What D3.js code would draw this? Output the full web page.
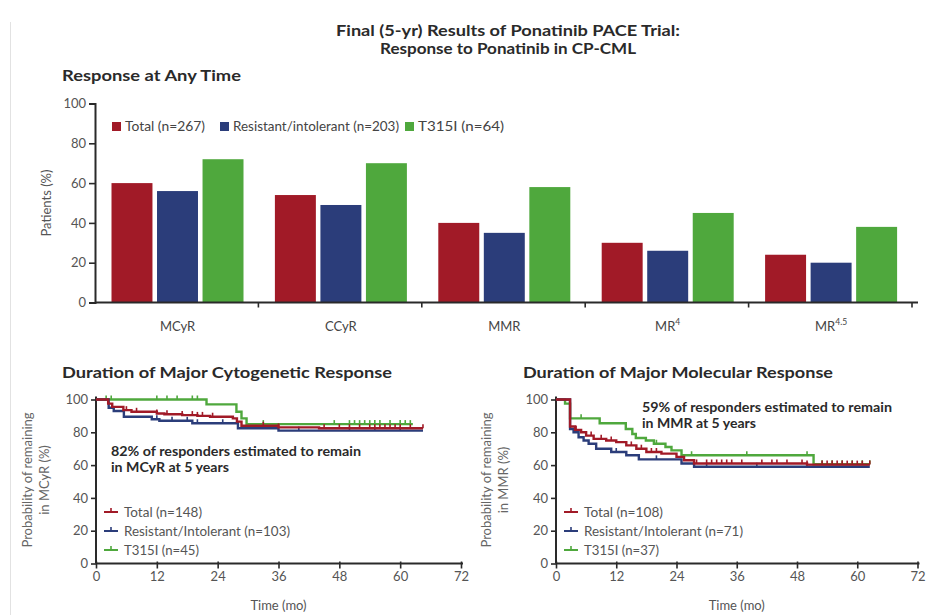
<!DOCTYPE html>
<html>
<head>
<meta charset="utf-8">
<script src="https://cdn.jsdelivr.net/npm/d3@7"></script>
<style>
  html, body { margin: 0; padding: 0; background: #fff; }
  svg { display: block; }
  text { font-family: Lato, "Open Sans", sans-serif; }
</style>
</head>
<body>
<svg id="chart" width="928" height="615"></svg>
<script>
// ---- Response at any time (bar chart) ----
const categories = ["MCyR", "CCyR", "MMR", "MR4", "MR4.5"];
const groups = ["Total (n=267)", "Resistant/intolerant (n=203)", "T315I (n=64)"];
const totalPct = [60, 54, 40, 30, 24];
const resistantPct = [56, 49, 35, 26, 20];
const t315iPct = [72, 70, 58, 45, 38];
const barTicks = [0, 20, 40, 60, 80, 100];

// ---- Duration of MCyR (Kaplan-Meier steps: [month, %]) ----
const mcyrTotal = [[0,100],[2.4,97.5],[3.2,95.5],[5.4,93.5],[7,92.5],[12,91.5],[13.5,91],[17,90.5],[20,90],[22.5,89.5],[27,88.5],[27.8,86.5],[28.7,84],[36,83],[44,82.5],[64.5,82.5]];
const mcyrResistant = [[0,100],[2.5,95],[3.5,93],[5.5,89.5],[11,88],[12.5,87],[19,85.5],[28,82.5],[36,81],[64.5,81]];
const mcyrT315i = [[0,100],[21.8,97],[27.7,92.5],[28.7,88.5],[29.7,85],[62.5,85]];
const mcyrTotalCensor = [6,8,12,14,17,19,20,21,23,33,36,45,48,50,52,54,55,56,57,58,59,60,62,64.5];
const mcyrResistantCensor = [12,15,18,20,25,40,50,55,60];
const mcyrT315iCensor = [2,3,12,14,16,19,20,33,47,50,51,52,53,54,55,56,58,60,61,62];
const mcyrLegend = ["Total (n=148)", "Resistant/Intolerant (n=103)", "T315I (n=45)"];

// ---- Duration of MMR ----
const mmrTotal = [[0,100],[2.8,83.5],[3.8,81.5],[5,80],[6,78],[7.5,76],[10,75],[12,74],[14,72],[16,70],[18,68],[21,67],[24,65],[25.5,63],[27.5,61],[50,60.3],[62.5,60.3]];
const mmrResistant = [[0,100],[2.8,82],[3.5,80],[4.5,77],[5.5,75],[6.5,73],[8,70],[11,68],[14,66],[16.5,63.5],[25,61],[27.5,59],[62.5,59]];
const mmrT315i = [[0,100],[1.8,97.5],[2.8,88.5],[8.7,85.5],[13.9,82],[15.2,79],[15.9,76.5],[17.9,75],[19.5,73],[21.8,71],[23,69],[25,66],[51.3,60.5],[62.5,60.5]];
const mmrTotalCensor = [4,7,9,11,15,17,19,20,28,30,31,32,33,34,35,37,41,43,44,46,49,50,53,54,55,56,57,58,59,60,61,62.5];
const mmrResistantCensor = [12,20,30,40,50];
const mmrT315iCensor = [5,20,27,38,50,53,55,57,59,61,62.5];
const mmrLegend = ["Total (n=108)", "Resistant/Intolerant (n=71)", "T315I (n=37)"];

const kmTicksX = [0, 12, 24, 36, 48, 60, 72];
const kmTicksY = [0, 20, 40, 60, 80, 100];

const colors = ["#a11a27", "#2b3d7a", "#4fa83d"];
const ink = "#2a2a2a";
const tickInk = "#555";

const svg = d3.select("#chart");

// page edge line
svg.append("line").attr("x1", 10.5).attr("x2", 10.5).attr("y1", 22).attr("y2", 615)
  .attr("stroke", "#e2e2e2").attr("stroke-width", 1);

function fitText(sel, w) {
  sel.attr("textLength", w).attr("lengthAdjust", "spacingAndGlyphs");
  return sel;
}

// Titles
fitText(svg.append("text").attr("x", 508).attr("y", 36).attr("text-anchor", "middle")
  .attr("font-size", 14.5).attr("font-weight", 700).attr("fill", ink)
  .text("Final (5-yr) Results of Ponatinib PACE Trial:"), 344);
fitText(svg.append("text").attr("x", 508).attr("y", 54).attr("text-anchor", "middle")
  .attr("font-size", 14.5).attr("font-weight", 700).attr("fill", ink)
  .text("Response to Ponatinib in CP-CML"), 256);
fitText(svg.append("text").attr("x", 62).attr("y", 81)
  .attr("font-size", 15).attr("font-weight", 700).attr("fill", ink)
  .text("Response at Any Time"), 179);

// ---------- bar chart ----------
const x0 = d3.scaleBand().domain(categories).range([95, 912]).paddingInner(0).paddingOuter(0);
const x1 = d3.scaleBand().domain(groups).range([16.5, 148.5]).paddingInner(0.1).paddingOuter(0);
const yb = d3.scaleLinear().domain([0, 100]).range([302.5, 103.5]);
const seriesVals = [totalPct, resistantPct, t315iPct];

const barG = svg.append("g");
categories.forEach((c, i) => {
  groups.forEach((g, j) => {
    const v = seriesVals[j][i];
    barG.append("rect")
      .attr("x", x0(c) + x1(g))
      .attr("y", yb(v))
      .attr("width", x1.bandwidth())
      .attr("height", yb(0) - yb(v))
      .attr("fill", colors[j]);
  });
});

// y axis
const yAxisB = svg.append("g").attr("transform", "translate(95,0)")
  .call(d3.axisLeft(yb).tickValues(barTicks).tickSize(6).tickPadding(3));
yAxisB.select(".domain").attr("stroke", ink).attr("stroke-width", 2);
yAxisB.selectAll(".tick line").attr("stroke", ink).attr("stroke-width", 1.6);
yAxisB.selectAll(".tick text").attr("font-size", 13).attr("fill", tickInk)
  .attr("font-family", "Lato, sans-serif");

// x axis line + group boundary ticks
svg.append("line").attr("x1", 95).attr("x2", 918).attr("y1", yb(0)).attr("y2", yb(0))
  .attr("stroke", ink).attr("stroke-width", 2);
categories.forEach(c => {
  const bx = x0(c) + x0.bandwidth();
  svg.append("line").attr("x1", bx).attr("x2", bx).attr("y1", yb(0)).attr("y2", yb(0) + 5)
    .attr("stroke", ink).attr("stroke-width", 1.6);
});

// category labels with superscripts
categories.forEach(c => {
  const t = svg.append("text").attr("x", x0(c) + 16.5 + 66).attr("y", 331)
    .attr("text-anchor", "middle").attr("font-size", 13).attr("fill", "#444");
  const m = c.match(/^MR(\d.*)$/);
  if (m) {
    t.append("tspan").text("MR");
    t.append("tspan").attr("font-size", 8.5).attr("dy", -6).text(m[1]);
  } else {
    t.text(c);
  }
});

// y label
svg.append("text").attr("transform", "translate(51,203) rotate(-90)")
  .attr("text-anchor", "middle").attr("font-size", 13).attr("fill", "#555")
  .text("Patients (%)");

// bar legend
const legX = [112, 220, 405];
const legW = [80, 166, 86];
groups.forEach((g, j) => {
  svg.append("rect").attr("x", legX[j]).attr("y", 122).attr("width", 9).attr("height", 9)
    .attr("fill", colors[j]);
  fitText(svg.append("text").attr("x", legX[j] + 13).attr("y", 131)
    .attr("font-size", 12.5).attr("fill", "#444").text(g), legW[j]);
});

// ---------- KM panels ----------
function kmPanel(opt) {
  const x = d3.scaleLinear().domain([0, 72]).range([opt.left, opt.right]);
  const y = d3.scaleLinear().domain([0, 100]).range([563.5, 399.5]);
  const g = svg.append("g");

  fitText(g.append("text").attr("x", opt.titleX).attr("y", 378)
    .attr("font-size", 15.5).attr("font-weight", 700).attr("fill", ink)
    .text(opt.title), opt.titleW);

  // axes
  const ax = g.append("g").attr("transform", `translate(0,${y(0)})`)
    .call(d3.axisBottom(x).tickValues(kmTicksX).tickSize(5).tickPadding(3));
  ax.select(".domain").remove();
  g.append("line").attr("x1", x(0)).attr("x2", x(72) + 2).attr("y1", y(0)).attr("y2", y(0))
    .attr("stroke", ink).attr("stroke-width", 2);
  ax.selectAll(".tick line").attr("stroke", ink).attr("stroke-width", 1.6).attr("y1", -2);
  ax.selectAll(".tick text").attr("font-size", 13).attr("fill", tickInk)
    .attr("font-family", "Lato, sans-serif");

  const ay = g.append("g").attr("transform", `translate(${x(0)},0)`)
    .call(d3.axisLeft(y).tickValues(kmTicksY).tickSize(5).tickPadding(3));
  ay.select(".domain").remove();
  g.append("line").attr("x1", x(0)).attr("x2", x(0)).attr("y1", y(100) - 3).attr("y2", y(0))
    .attr("stroke", ink).attr("stroke-width", 2);
  ay.selectAll(".tick line").attr("stroke", ink).attr("stroke-width", 1.6);
  ay.selectAll(".tick text").attr("font-size", 13).attr("fill", tickInk)
    .attr("font-family", "Lato, sans-serif");

  g.append("text").attr("x", x(36)).attr("y", 610).attr("text-anchor", "middle")
    .attr("font-size", 13).attr("fill", "#555").text("Time (mo)");

  g.append("text").attr("transform", `translate(${opt.ylabX},480) rotate(-90)`)
    .attr("text-anchor", "middle").attr("font-size", 13).attr("fill", "#666")
    .text("Probability of remaining");
  g.append("text").attr("transform", `translate(${opt.ylabX + 17},480) rotate(-90)`)
    .attr("text-anchor", "middle").attr("font-size", 13).attr("fill", "#666")
    .text(opt.ylab2);

  // curves
  const line = d3.line().x(d => x(d[0])).y(d => y(d[1])).curve(d3.curveStepAfter);
  const stepAt = (pts, t) => {
    let v = pts[0][1];
    for (const p of pts) { if (p[0] <= t) v = p[1]; }
    return v;
  };
  [2, 1, 0].forEach(j => {
    const pts = opt.series[j];
    g.append("path").attr("d", line(pts)).attr("fill", "none")
      .attr("stroke", colors[j]).attr("stroke-width", 2.4);
    g.selectAll(null).data(opt.censor[j]).enter().append("line")
      .attr("x1", d => x(d)).attr("x2", d => x(d))
      .attr("y1", d => y(stepAt(pts, d)))
      .attr("y2", d => y(stepAt(pts, d)) - 4)
      .attr("stroke", colors[j]).attr("stroke-width", 1.6);
  });

  // annotation
  opt.note.forEach((s, i) => {
    fitText(g.append("text").attr("x", opt.noteX).attr("y", opt.noteY + i * 16)
      .attr("font-size", 13).attr("font-weight", 700).attr("fill", ink).text(s), opt.noteW[i]);
  });

  // legend
  opt.legend.forEach((s, j) => {
    const ly = [512, 531, 550][j];
    g.append("line").attr("x1", opt.legX).attr("x2", opt.legX + 14).attr("y1", ly).attr("y2", ly)
      .attr("stroke", colors[j]).attr("stroke-width", 2);
    g.append("line").attr("x1", opt.legX + 7).attr("x2", opt.legX + 7).attr("y1", ly).attr("y2", ly - 4)
      .attr("stroke", colors[j]).attr("stroke-width", 1.6);
    fitText(g.append("text").attr("x", opt.legX + 20).attr("y", ly + 4.5)
      .attr("font-size", 12.5).attr("fill", "#555").text(s), opt.legW[j]);
  });
}

kmPanel({
  left: 96, right: 461, title: "Duration of Major Cytogenetic Response", titleX: 62, titleW: 330,
  ylabX: 32, ylab2: "in MCyR (%)",
  series: [mcyrTotal, mcyrResistant, mcyrT315i],
  censor: [mcyrTotalCensor, mcyrResistantCensor, mcyrT315iCensor],
  note: ["82% of responders estimated to remain", "in MCyR at 5 years"],
  noteX: 111, noteY: 456, noteW: [250, 118],
  legend: mcyrLegend, legX: 104, legW: [78, 166, 75]
});

kmPanel({
  left: 556, right: 917.5, title: "Duration of Major Molecular Response", titleX: 523, titleW: 310,
  ylabX: 491, ylab2: "in MMR (%)",
  series: [mmrTotal, mmrResistant, mmrT315i],
  censor: [mmrTotalCensor, mmrResistantCensor, mmrT315iCensor],
  note: ["59% of responders estimated to remain", "in MMR at 5 years"],
  noteX: 642, noteY: 412, noteW: [250, 114],
  legend: mmrLegend, legX: 564, legW: [79, 159, 75]
});
</script>
</body>
</html>
